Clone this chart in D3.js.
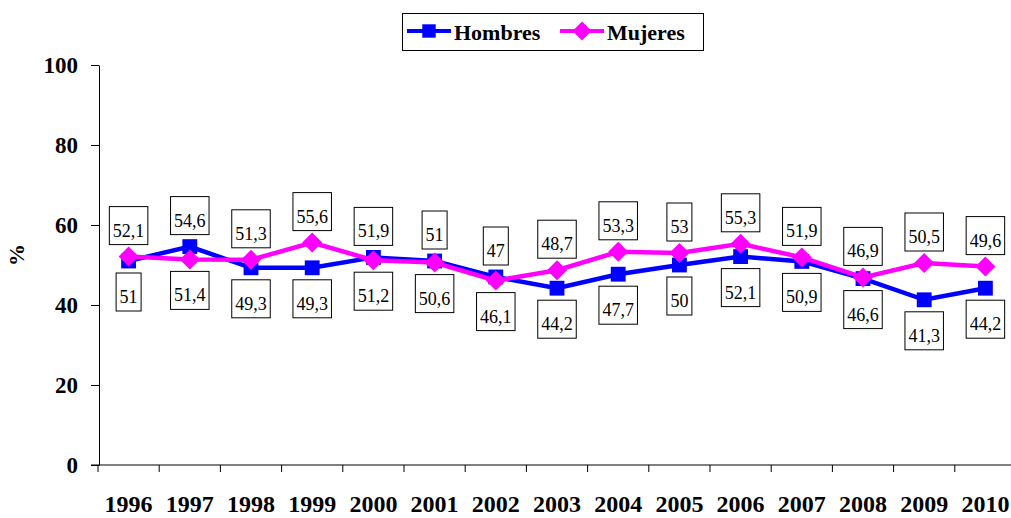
<!doctype html>
<html>
  <head>
    <script src="https://cdnjs.cloudflare.com/ajax/libs/d3/7.8.5/d3.min.js"></script>
    <style>
      body { margin: 0; background: #fff; }
      svg, svg text { font-family: "Liberation Serif", "Times New Roman", serif; }
      .axis text { font-size: 23px; font-weight: bold; fill: #000; }
      .axis path, .axis line { stroke: #000; stroke-width: 1; }
      .xlab { font-size: 24px; font-weight: bold; fill: #000; }
      path.line { fill: none; stroke-width: 4.5; }
      rect.lbl { fill: #fff; stroke: #000; stroke-width: 1; }
      text.lbl { font-size: 18px; fill: #000; }
      .legend text { font-size: 22px; font-weight: bold; }
    </style>
  </head>
  <body>
    <svg width="1011" height="518"></svg>
    <script>
      var years = ["1996","1997","1998","1999","2000","2001","2002","2003","2004","2005","2006","2007","2008","2009","2010"];
      var hombres = [51, 54.6, 49.3, 49.3, 51.9, 51, 47, 44.2, 47.7, 50, 52.1, 50.9, 46.6, 41.3, 44.2];
      var mujeres = [52.1, 51.4, 51.3, 55.6, 51.2, 50.6, 46.1, 48.7, 53.3, 53, 55.3, 51.9, 46.9, 50.5, 49.6];
      var yTicks = [0, 20, 40, 60, 80, 100];

      var svg = d3.select("svg");

      var x = d3.scaleBand().domain(years).range([98, 1016]);
      var y = d3.scaleLinear().domain([0, 100]).range([465, 65]);
      var cx = d => x(d) + x.bandwidth() / 2;

      // y axis
      svg.append("g").attr("class", "axis")
        .attr("transform", "translate(99,0)")
        .call(d3.axisLeft(y).tickValues(yTicks).tickSize(8).tickPadding(13).tickSizeOuter(0))
        .attr("font-family", null).attr("font-size", null);

      // x axis, ticks at band edges
      var xg = svg.append("g").attr("class", "axis");
      xg.append("line").attr("x1", 91).attr("x2", 1016).attr("y1", y(0)).attr("y2", y(0));
      xg.selectAll("line.tk").data(years).enter().append("line")
        .attr("class", "tk")
        .attr("x1", d => x(d)).attr("x2", d => x(d))
        .attr("y1", y(0)).attr("y2", y(0) + 7);
      svg.selectAll("text.xlab").data(years).enter().append("text")
        .attr("class", "xlab")
        .attr("x", d => cx(d)).attr("y", 512)
        .attr("text-anchor", "middle")
        .text(d => d);

      svg.append("text")
        .attr("transform", "translate(24,255) rotate(-90)")
        .attr("text-anchor", "middle")
        .style("font-size", "22px").style("font-weight", "bold")
        .text("%");

      // square turned on its tip
      var rhombus = {
        draw: function (ctx, size) {
          var r = Math.sqrt(size / 2);
          ctx.moveTo(0, -r); ctx.lineTo(r, 0); ctx.lineTo(0, r); ctx.lineTo(-r, 0); ctx.closePath();
        }
      };

      var series = [
        { name: "Hombres", values: hombres, color: "#0000FF", shape: d3.symbolSquare, size: 220 },
        { name: "Mujeres", values: mujeres, color: "#FF00FF", shape: rhombus, size: 200 }
      ];

      var line = d3.line().x((d, i) => cx(years[i])).y(d => y(d));

      series.forEach(s => {
        svg.append("path").attr("class", "line")
          .attr("d", line(s.values)).attr("stroke", s.color);
        svg.selectAll(null).data(s.values).enter().append("path")
          .attr("transform", (d, i) => "translate(" + cx(years[i]) + "," + y(d) + ")")
          .attr("d", d3.symbol().type(s.shape).size(s.size))
          .attr("fill", s.color);
      });

      // data labels: higher value above, lower value below
      var fmt = v => String(v).replace(".", ",");
      years.forEach((yr, i) => {
        var hi = Math.max(hombres[i], mujeres[i]);
        var lo = Math.min(hombres[i], mujeres[i]);
        [[hi, true], [lo, false]].forEach(p => {
          var top = p[1] ? y(p[0]) - 12 - 38 : y(p[0]) + 12;
          var g = svg.append("g");
          var r = g.append("rect").attr("class", "lbl");
          var t = g.append("text").attr("class", "lbl")
            .attr("x", cx(yr)).attr("y", top + 30)
            .attr("text-anchor", "middle").text(fmt(p[0]));
          var w = t.node().getComputedTextLength() + 7;
          r.attr("x", cx(yr) - w / 2).attr("y", top).attr("width", w).attr("height", 38);
        });
      });

      // legend
      var lg = svg.append("g").attr("class", "legend");
      lg.append("rect").attr("x", 402.5).attr("y", 13.5).attr("width", 301).attr("height", 37)
        .attr("fill", "#fff").attr("stroke", "#000");
      var lx = [407, 560];
      series.forEach((s, i) => {
        lg.append("line").attr("x1", lx[i]).attr("x2", lx[i] + 44).attr("y1", 31).attr("y2", 31)
          .attr("stroke", s.color).attr("stroke-width", 4);
        lg.append("path").attr("transform", "translate(" + (lx[i] + 22) + ",31)")
          .attr("d", d3.symbol().type(s.shape).size(180)).attr("fill", s.color);
        lg.append("text").attr("x", lx[i] + 47).attr("y", 40).text(s.name);
      });
    </script>
  </body>
</html>
